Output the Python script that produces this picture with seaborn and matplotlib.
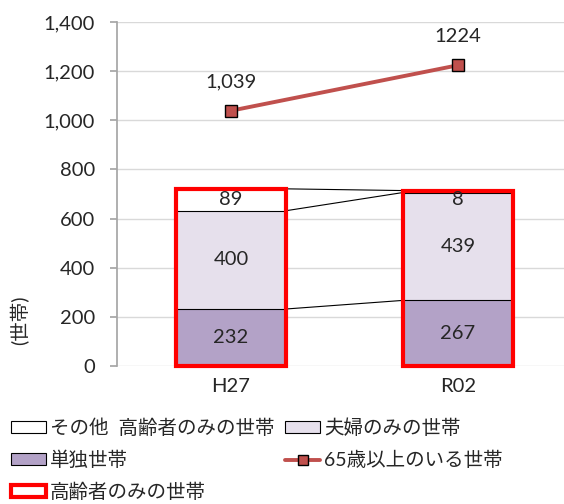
import numpy as np
import pandas as pd
import matplotlib
matplotlib.use("Agg")
import matplotlib.pyplot as plt
import seaborn as sns
from matplotlib.patches import Patch, Rectangle
from matplotlib.lines import Line2D
from matplotlib.ticker import FuncFormatter

# data
years = ["H27", "R02"]
tandoku = [232, 267]      # 単独世帯
fufu = [400, 439]         # 夫婦のみの世帯
sonota = [89, 8]          # その他 高齢者のみの世帯
over65 = [1039, 1224]     # 65歳以上のいる世帯
over65_labels = ["1,039", "1224"]

sns.set_theme(style="white")
plt.rcParams['font.family'] = ['Lato', 'Noto Sans CJK JP', 'DejaVu Sans']

c_tandoku = "#B3A2C7"
c_fufu = "#E6E0EC"
c_line = "#C0504D"

df = pd.DataFrame({"year": years, "tandoku": tandoku, "fufu": fufu, "sonota": sonota})
df["lvl2"] = df["tandoku"] + df["fufu"]
df["total"] = df["lvl2"] + df["sonota"]

fig = plt.figure(figsize=(5.64, 5.04), dpi=100)
ax = fig.add_axes([117 / 564, 138 / 504, 1 - 117 / 564, 344 / 504])

w = 0.485
# overlapping bars give the stacked look
sns.barplot(data=df, x="year", y="total", color="white", edgecolor="black",
            linewidth=0.8, width=w, saturation=1, ax=ax)
sns.barplot(data=df, x="year", y="lvl2", color=c_fufu, edgecolor="black",
            linewidth=0.8, width=w, saturation=1, ax=ax)
sns.barplot(data=df, x="year", y="tandoku", color=c_tandoku, edgecolor="black",
            linewidth=0.8, width=w, saturation=1, ax=ax)

# series lines between bars
for col in ["tandoku", "lvl2", "total"]:
    ax.plot([0 + w / 2, 1 - w / 2], [df[col][0], df[col][1]], color="black", lw=0.8, zorder=3)

# highlight boxes
for i, tot in enumerate(df["total"]):
    ax.add_patch(Rectangle((i - w / 2, 0), w, tot, fill=False, edgecolor="#FF0000",
                           lw=3, zorder=5, clip_on=False))

# segment labels
fs = 14.5
for i in range(2):
    ax.text(i, df["tandoku"][i] / 2, str(tandoku[i]), ha="center", va="center", fontsize=fs, zorder=6)
    ax.text(i, df["tandoku"][i] + fufu[i] / 2, str(fufu[i]), ha="center", va="center", fontsize=fs, zorder=6)
    yv = df["lvl2"][i] + sonota[i] / 2
    if sonota[i] < 40:
        yv = df["lvl2"][i] - 30
    ax.text(i, yv, str(sonota[i]), ha="center", va="center", fontsize=fs, zorder=6)

# line
sns.lineplot(x=np.arange(2), y=over65, color=c_line, lw=2.8, marker="s", markersize=9,
             markerfacecolor=c_line, markeredgecolor="black", markeredgewidth=1, ax=ax, zorder=7)
for i in range(2):
    ax.annotate(over65_labels[i], (i, over65[i]), xytext=(0, 21), textcoords="offset points",
                ha="center", va="center", fontsize=fs)

ax.set_xlim(-(231 - 117) / 227, 1 + (564 - 458) / 227)
ax.set_ylim(0, 1400)
ax.set_yticks(range(0, 1401, 200))
ax.yaxis.set_major_formatter(FuncFormatter(lambda v, p: f"{int(v):,}"))
ax.grid(axis="y", color="#D9D9D9", lw=1)
ax.set_axisbelow(True)
for s in ["top", "right", "bottom"]:
    ax.spines[s].set_visible(False)
ax.spines["left"].set_color("#A6A6A6")
ax.tick_params(axis="y", length=5, color="#A6A6A6", labelsize=fs, left=True, pad=11)
ax.tick_params(axis="x", length=0, labelsize=fs, pad=9)
ax.set_xlabel("")
ax.set_ylabel("")

fig.text(20 / 564, 1 - 320 / 504, "(世帯)", rotation=90, ha="center", va="center", fontsize=14)

handles = [
    Patch(facecolor="white", edgecolor="black", lw=0.8),
    Patch(facecolor=c_tandoku, edgecolor="black", lw=0.8),
    Patch(facecolor="white", edgecolor="#FF0000", lw=3),
    Patch(facecolor=c_fufu, edgecolor="black", lw=0.8),
    Line2D([], [], color=c_line, lw=2.8, marker="s", markersize=7,
           markerfacecolor=c_line, markeredgecolor="black"),
]
labels = ["その他  高齢者のみの世帯", "単独世帯", "高齢者のみの世帯", "夫婦のみの世帯", "65歳以上のいる世帯"]
fig.legend(handles, labels, ncol=2, loc="upper left", bbox_to_anchor=(0.02, 0.17),
           frameon=False, fontsize=14, handlelength=1.8, handleheight=0.55,
           handletextpad=0.2, columnspacing=0.55, labelspacing=0.7, borderaxespad=0,
           borderpad=0)

fig.savefig("out.png", dpi=100)
